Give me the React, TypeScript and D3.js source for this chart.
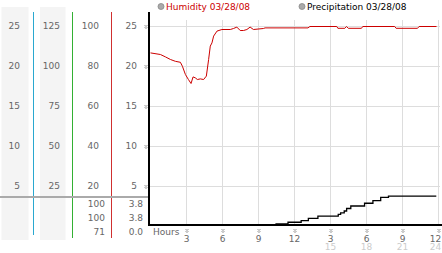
import React from "react";
import * as d3 from "d3";

const humHours = [0, 0.83, 1.25, 1.67, 2.08, 2.5, 2.67, 2.92, 3.17, 3.39, 3.56, 3.75, 3.92, 4.17, 4.44, 4.67, 4.86, 5.0, 5.14, 5.28, 5.56, 5.97, 6.67, 6.94, 7.22, 7.5, 7.78, 8.06, 8.33, 8.61, 9.44, 9.58, 13.17, 13.33, 15.58, 15.67, 16.25, 16.39, 16.54, 17.64, 17.75, 20.42, 20.54, 22.33, 22.46, 23.92];
const humValues = [86.8, 86, 84.8, 83.5, 82.6, 82.1, 80.1, 76, 73.5, 71.5, 74.8, 74.3, 73.5, 73.8, 73.5, 75.2, 83.5, 90.2, 91.8, 95.2, 97.7, 98.5, 98.5, 99, 99.7, 98, 98, 98.5, 99.7, 98.5, 99, 99.3, 99.3, 100, 100, 99.1, 99.1, 100, 99.1, 99.1, 100, 100, 99.1, 99.1, 100, 100];

const precipHours = [0, 10.0, 10.5, 11.5, 12.6, 13.2, 14.0, 15.7, 15.9, 16.2, 16.4, 16.75, 17.9, 18.6, 19.25, 19.9, 23.9];
const precipValues = [0, 0.05, 0.15, 0.36, 0.57, 0.88, 1.18, 1.4, 1.6, 1.84, 2.17, 2.5, 2.86, 3.2, 3.64, 3.8, 3.8];

const hourTicks = [3, 6, 9, 12, 15, 18, 21, 24];
const hourLabels = ["3", "6", "9", "12", "3", "6", "9", "12"];
const hourLabels24 = ["", "", "", "", "15", "18", "21", "24"];

const col1Ticks = [5, 10, 15, 20, 25];
const col2Ticks = [25, 50, 75, 100, 125];
const col3Ticks = [20, 40, 60, 80, 100];
const col4Ticks = [5, 10, 15, 20, 25];

const humSummary = ["100", "100", "71"];
const precipSummary = ["3.8", "3.8", "0.0"];

const legendLabels = ["Humidity 03/28/08", "Precipitation 03/28/08"];

const FONT = "DejaVu Sans, sans-serif";

// tiny checker glyph used as tick marker
const glyphCells = [[0, 0], [2, 0], [1, 1], [0, 2], [2, 2], [1, 3]];

export default function App() {
  const W = 442, H = 253;
  const x = d3.scaleLinear().domain([0, 24]).range([150.5, 437.5]);
  const yHum = d3.scaleLinear().domain([0, 100]).range([226.5, 26.5]);
  const y25 = d3.scaleLinear().domain([0, 25]).range([226.5, 26.5]);
  const y125 = d3.scaleLinear().domain([0, 125]).range([226.5, 26.5]);
  const yPrecip = d3.scaleLinear().domain([0, 5]).range([225, 187]);

  const humLine = d3.line<number>()
    .x((_, i) => x(humHours[i]))
    .y((v) => yHum(v))
    .curve(d3.curveLinear)(humValues) || "";
  const precipLine = d3.line<number>()
    .x((_, i) => x(precipHours[i]))
    .y((v) => yPrecip(v))
    .curve(d3.curveStepAfter)(precipValues) || "";

  const labelColor = "#666";
  const tickGlyph = (cx: number, cy: number, key: string) => (
    <g key={key} transform={`translate(${Math.round(cx) - 1.5},${Math.round(cy) - 2})`}>
      {glyphCells.map(([gx, gy], i) => (
        <rect key={i} x={gx} y={gy} width={1} height={1} fill="#999" />
      ))}
    </g>
  );

  return (
    <svg width={W} height={H} style={{ position: "absolute", left: 0, top: 0, background: "#fff" }} fontFamily={FONT}>
      {/* left panel strips */}
      <rect x={1.5} y={7} width={27} height={233} fill="#f4f4f4" />
      <rect x={40} y={7} width={25.5} height={233} fill="#f4f4f4" />
      {/* colored vertical lines */}
      <line x1={33.5} x2={33.5} y1={12} y2={235} stroke="#2aa8d0" strokeWidth={1} />
      <line x1={72.5} x2={72.5} y1={12} y2={238} stroke="#33b033" strokeWidth={1} />
      <line x1={111.5} x2={111.5} y1={12} y2={238} stroke="#d03030" strokeWidth={1} />
      {/* gray separator */}
      <line x1={0} x2={149} y1={197} y2={197} stroke="#aaa" strokeWidth={2} />

      {/* left labels */}
      {col1Ticks.map((t) => (
        <text key={"c1" + t} x={20} y={y25(t)} textAnchor="end" dominantBaseline="middle" fontSize={9} fill={labelColor}>{t}</text>
      ))}
      {col2Ticks.map((t) => (
        <text key={"c2" + t} x={60} y={y125(t)} textAnchor="end" dominantBaseline="middle" fontSize={9} fill={labelColor}>{t}</text>
      ))}
      {col3Ticks.map((t) => (
        <text key={"c3" + t} x={99} y={yHum(t)} textAnchor="end" dominantBaseline="middle" fontSize={9} fill={labelColor}>{t}</text>
      ))}
      {col4Ticks.map((t) => (
        <text key={"c4" + t} x={137} y={y25(t)} textAnchor="end" dominantBaseline="middle" fontSize={9} fill={labelColor}>{t}</text>
      ))}
      {humSummary.map((s, i) => (
        <text key={"hs" + i} x={105} y={204.5 + i * 14} textAnchor="end" dominantBaseline="middle" fontSize={9} fill={labelColor}>{s}</text>
      ))}
      {precipSummary.map((s, i) => (
        <text key={"ps" + i} x={143} y={204.5 + i * 14} textAnchor="end" dominantBaseline="middle" fontSize={9} fill={labelColor}>{s}</text>
      ))}

      {/* grid */}
      {col4Ticks.map((t) => (
        <line key={"hg" + t} x1={150} x2={440} y1={y25(t)} y2={y25(t)} stroke="#ddd" strokeWidth={1} />
      ))}
      {hourTicks.map((h) => (
        <line key={"vg" + h} x1={Math.round(x(h)) + 0.5} x2={Math.round(x(h)) + 0.5} y1={20} y2={224} stroke="#ddd" strokeWidth={1} />
      ))}
      {col4Ticks.map((t) => tickGlyph(146, y25(t), "yt" + t))}

      {/* data */}
      <path d={precipLine} fill="none" stroke="#000" strokeWidth={1.3} />
      <path d={humLine} fill="none" stroke="#cc0000" strokeWidth={1} />

      {/* axes */}
      <line x1={149} x2={149} y1={12} y2={226} stroke="#000" strokeWidth={2} />
      <line x1={148} x2={442} y1={225} y2={225} stroke="#000" strokeWidth={2} />

      {/* x axis labels */}
      <text x={153} y={232} dominantBaseline="middle" fontSize={9} fill={labelColor}>Hours</text>
      {hourTicks.map((h, i) => {
        const tx = Math.min(Math.round(x(h)) + 0.5, 435.5);
        return (
          <g key={"xl" + h}>
            {tickGlyph(Math.round(x(h)) + 0.5, 231, "xt" + h)}
            <text x={tx} y={239} textAnchor="middle" dominantBaseline="middle" fontSize={9} fill={labelColor}>{hourLabels[i]}</text>
            <text x={tx} y={247.5} textAnchor="middle" dominantBaseline="middle" fontSize={9} fill="#ccc">{hourLabels24[i]}</text>
          </g>
        );
      })}

      {/* legend */}
      <circle cx={161} cy={6.5} r={3} fill="#aaa" stroke="#888" strokeWidth={0.8} />
      <text x={166} y={7} dominantBaseline="middle" fontSize={9} fill="#cc0000">{legendLabels[0]}</text>
      <circle cx={302} cy={6.5} r={3} fill="#aaa" stroke="#888" strokeWidth={0.8} />
      <text x={307} y={7} dominantBaseline="middle" fontSize={9} fill="#000">{legendLabels[1]}</text>
    </svg>
  );
}
